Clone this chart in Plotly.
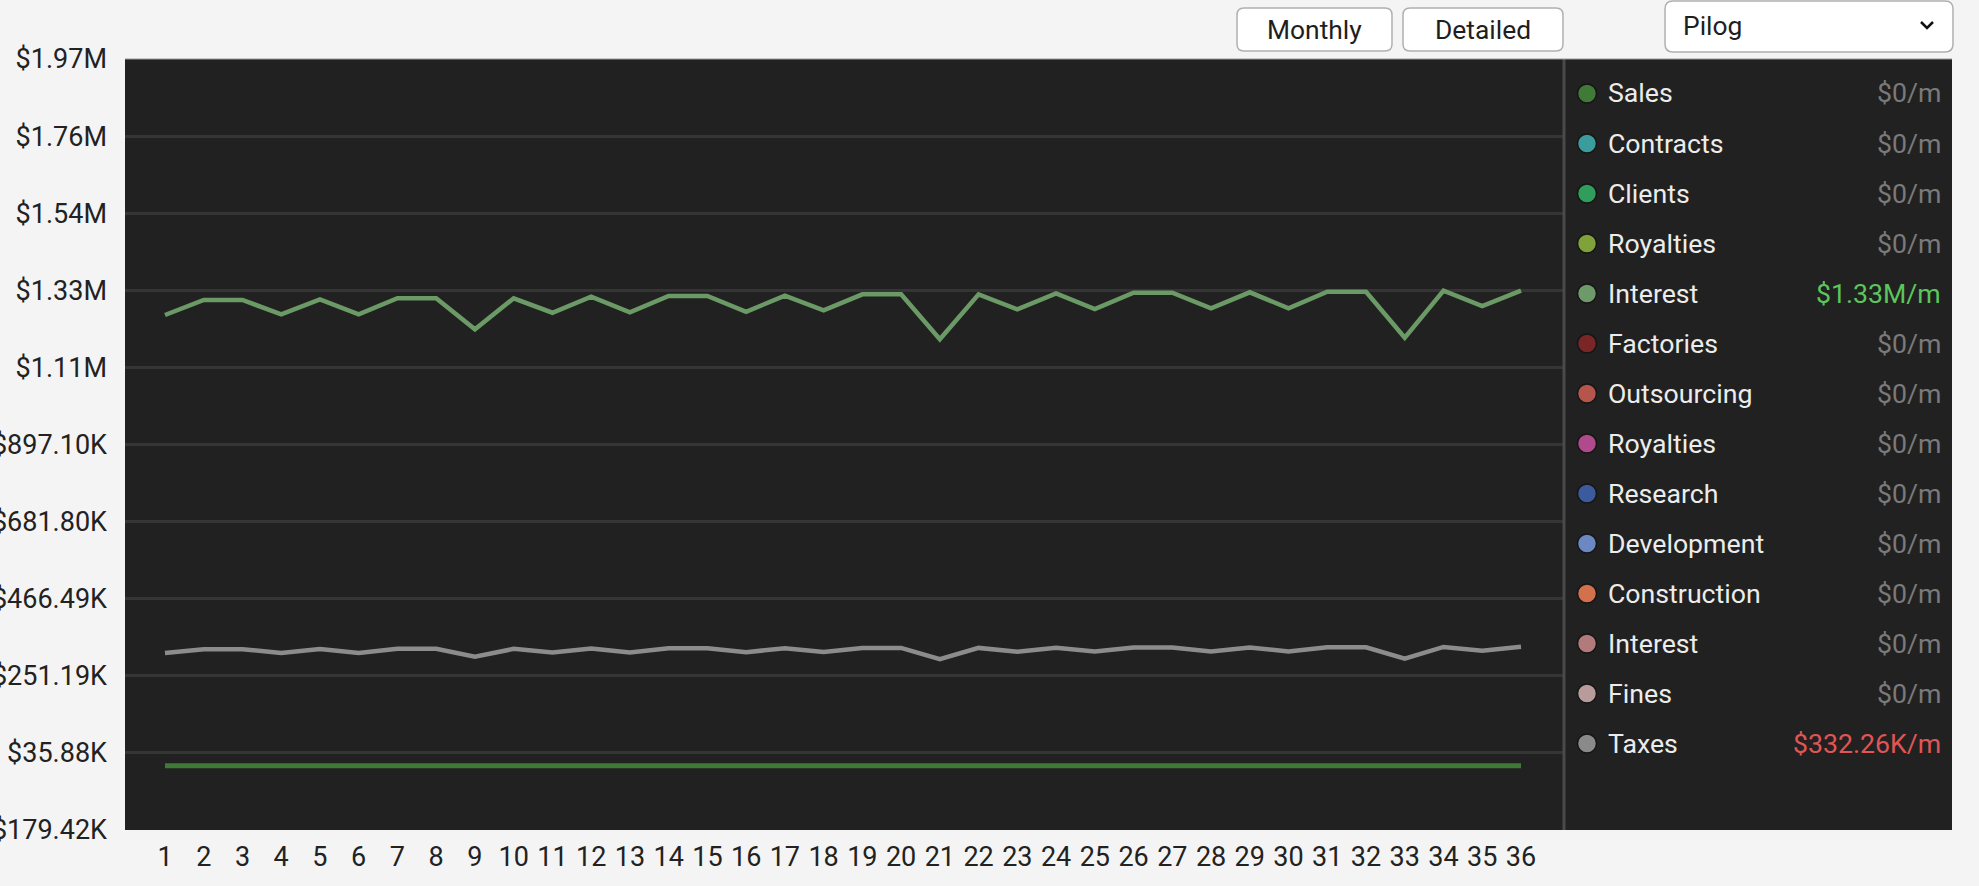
import plotly.graph_objects as go

# ---------------- data ----------------
months = list(range(1, 37))

interest_k = [1258.7, 1300.6, 1300.6, 1260.7, 1302.6, 1260.7, 1305.4, 1305.4, 1218.8, 1305.4,
              1265.1, 1309.8, 1266.3, 1311.8, 1311.8, 1267.9, 1312.6, 1271.6, 1316.5, 1316.5,
              1190.9, 1316.5, 1274.6, 1319.3, 1275.5, 1321.0, 1321.0, 1277.4, 1322.1, 1277.4,
              1323.8, 1323.8, 1195.3, 1326.6, 1283.9, 1327.0]

taxes_k = [314.7, 325.2, 325.2, 315.2, 325.7, 315.2, 326.4, 326.4, 304.7, 326.4,
           316.3, 327.5, 316.6, 328.0, 328.0, 317.0, 328.2, 317.9, 329.1, 329.1,
           297.7, 329.1, 318.7, 329.8, 318.9, 330.3, 330.3, 319.4, 330.5, 319.4,
           331.0, 331.0, 298.8, 331.7, 321.0, 332.26]

sales_k = [0.0] * 36

ytick_vals_k = [-179.42, 35.88, 251.19, 466.49, 681.80, 897.10, 1112.40, 1327.70, 1543.00, 1758.30, 1973.60]
ytick_text = ["$179.42K", "$35.88K", "$251.19K", "$466.49K", "$681.80K", "$897.10K",
              "$1.11M", "$1.33M", "$1.54M", "$1.76M", "$1.97M"]

legend_names = ["Sales", "Contracts", "Clients", "Royalties", "Interest", "Factories", "Outsourcing",
                "Royalties", "Research", "Development", "Construction", "Interest", "Fines", "Taxes"]
legend_values = ["$0/m", "$0/m", "$0/m", "$0/m", "$1.33M/m", "$0/m", "$0/m",
                 "$0/m", "$0/m", "$0/m", "$0/m", "$0/m", "$0/m", "$332.26K/m"]
legend_colors = ["#3f7a37", "#3a9c9c", "#2f9e5c", "#7fa23a", "#6e9a6a", "#7a2626", "#b5554b",
                 "#b04a8c", "#3b5b9c", "#6b88c2", "#d2714b", "#b27b7b", "#b99b9b", "#8a8a8a"]
legend_value_colors = ["#7a7a7a", "#7a7a7a", "#7a7a7a", "#7a7a7a", "#5cc65c", "#7a7a7a", "#7a7a7a",
                       "#7a7a7a", "#7a7a7a", "#7a7a7a", "#7a7a7a", "#7a7a7a", "#7a7a7a", "#e05555"]

# ---------------- layout geometry (pixels) ----------------
W, H = 1979, 886
L, R, T, B = 125, 1564, 59, 830      # plot area
PANEL_R = 1952
FONT = "Roboto"

def px(x):
    return (x - L) / (R - L)

def py(y):
    return (B - y) / (B - T)

fig = go.Figure()

fig.add_trace(go.Scatter(x=months, y=[v * 1000 for v in taxes_k], mode="lines",
                         line=dict(color="#8c8c8c", width=4.5), name="Taxes", hoverinfo="skip"))
fig.add_trace(go.Scatter(x=months, y=[v * 1000 for v in interest_k], mode="lines",
                         line=dict(color="#6b9a66", width=4.5), name="Interest", hoverinfo="skip"))
fig.add_trace(go.Scatter(x=months, y=[v * 1000 for v in sales_k], mode="lines",
                         line=dict(color="#3e7a36", width=5), name="Sales", hoverinfo="skip"))

shapes = []
annotations = []

# legend panel background
shapes.append(dict(type="rect", xref="paper", yref="paper", x0=1, x1=px(PANEL_R), y0=0, y1=1,
                   fillcolor="#212121", line=dict(width=0), layer="below"))
# divider
shapes.append(dict(type="line", xref="paper", yref="paper", x0=px(R), x1=px(R), y0=0, y1=1,
                   line=dict(color="#4a4a4a", width=3)))
# top border
shapes.append(dict(type="line", xref="paper", yref="paper", x0=0, x1=px(PANEL_R), y0=1, y1=1,
                   line=dict(color="#9a9a9a", width=1)))

# legend rows
for i, (nm, val, col, vcol) in enumerate(zip(legend_names, legend_values, legend_colors, legend_value_colors)):
    cy = 93.5 + 50 * i
    r = 9.5
    shapes.append(dict(type="circle", xref="paper", yref="paper",
                       x0=px(1587 - r), x1=px(1587 + r), y0=py(cy + r), y1=py(cy - r),
                       fillcolor=col, line=dict(color="#151515", width=1.5)))
    annotations.append(dict(x=px(1606), y=py(cy), xref="paper", yref="paper", text=nm, showarrow=False,
                            xanchor="left", yanchor="middle", font=dict(family=FONT, size=26.7, color="#ececec")))
    annotations.append(dict(x=px(1943), y=py(cy), xref="paper", yref="paper", text=val, showarrow=False,
                            xanchor="right", yanchor="middle", font=dict(family=FONT, size=26.7, color=vcol)))

# buttons
def rounded_rect(x0, y0, x1, y1, rad):
    pts = []
    pts.append(f"M {px(x0 + rad)},{py(y0)}")
    pts.append(f"L {px(x1 - rad)},{py(y0)}")
    pts.append(f"Q {px(x1)},{py(y0)} {px(x1)},{py(y0 + rad)}")
    pts.append(f"L {px(x1)},{py(y1 - rad)}")
    pts.append(f"Q {px(x1)},{py(y1)} {px(x1 - rad)},{py(y1)}")
    pts.append(f"L {px(x0 + rad)},{py(y1)}")
    pts.append(f"Q {px(x0)},{py(y1)} {px(x0)},{py(y1 - rad)}")
    pts.append(f"L {px(x0)},{py(y0 + rad)}")
    pts.append(f"Q {px(x0)},{py(y0)} {px(x0 + rad)},{py(y0)} Z")
    return " ".join(pts)

for (bx0, bx1, label) in [(1237, 1392, "Monthly"), (1403, 1563, "Detailed")]:
    shapes.append(dict(type="path", xref="paper", yref="paper", path=rounded_rect(bx0, 8, bx1, 51, 7),
                       fillcolor="#ffffff", line=dict(color="#b0b0b0", width=1.5)))
    annotations.append(dict(x=px((bx0 + bx1) / 2), y=py(30), xref="paper", yref="paper", text=label,
                            showarrow=False, xanchor="center", yanchor="middle",
                            font=dict(family=FONT, size=26.4, color="#1e1e1e")))

# dropdown
shapes.append(dict(type="path", xref="paper", yref="paper", path=rounded_rect(1665, 1, 1953, 52, 8),
                   fillcolor="#ffffff", line=dict(color="#b0b0b0", width=1.5)))
annotations.append(dict(x=px(1681), y=py(26), xref="paper", yref="paper", text="Pilog", showarrow=False,
                        xanchor="left", yanchor="middle", font=dict(family=FONT, size=26.4, color="#1e1e1e")))
shapes.append(dict(type="path", xref="paper", yref="paper",
                   path=f"M {px(1921)},{py(22)} L {px(1927)},{py(28)} L {px(1933)},{py(22)}",
                   line=dict(color="#111111", width=2.5)))

fig.update_layout(
    width=W, height=H,
    margin=dict(l=L, r=W - R, t=T, b=H - B, pad=0, autoexpand=False),
    paper_bgcolor="#f4f4f4",
    plot_bgcolor="#212121",
    showlegend=False,
    font=dict(family=FONT, size=27, color="#222222"),
    shapes=shapes,
    annotations=annotations,
    xaxis=dict(range=[-0.032, 37.11], tickmode="array", tickvals=months, ticktext=[str(m) for m in months],
               showgrid=False, zeroline=False, showline=False, ticks="", ticklabelstandoff=8,
               automargin=False,
               tickfont=dict(family=FONT, size=27, color="#222222"), fixedrange=True),
    yaxis=dict(range=[-179420, 1973600], tickmode="array", tickvals=[v * 1000 for v in ytick_vals_k],
               ticktext=ytick_text, showgrid=True, gridcolor="#353535", gridwidth=3, zeroline=False,
               showline=False, ticks="", ticklabelstandoff=17, automargin=False,
               tickfont=dict(family=FONT, size=27, color="#222222"), fixedrange=True),
)

fig.write_html("out.html", config={"displayModeBar": False},
               post_script="document.body.style.margin='0';document.body.style.overflow='hidden';")
